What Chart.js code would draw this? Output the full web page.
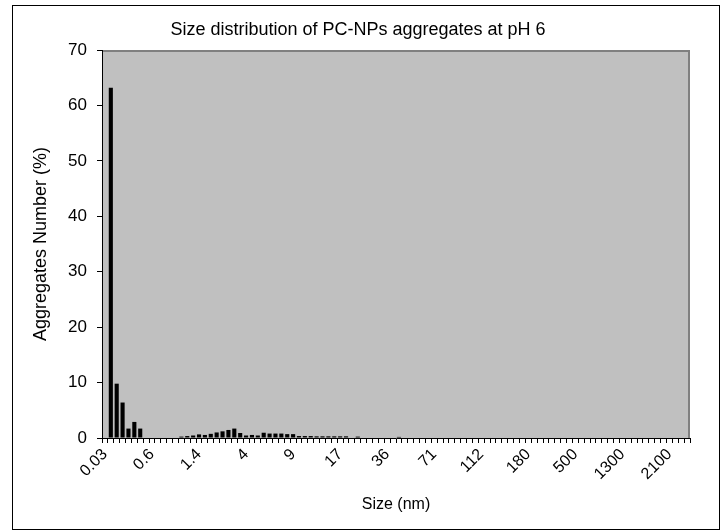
<!DOCTYPE html>
<html>
<head>
<meta charset="utf-8">
<script src="https://cdn.jsdelivr.net/npm/chart.js@4/dist/chart.umd.min.js"></script>
<style>
  html, body { margin: 0; padding: 0; background: #fff; }
  #wrap { width: 727px; height: 531px; }
</style>
</head>
<body>
<div id="wrap"><canvas id="c" width="727" height="531"></canvas></div>
<script>
const tickLabels = ['0.03','0.6','1.4','4','9','17','36','71','112','180','500','1300','2100'];
const labelEvery = 8;
const aggregatesNumber = [
  0, 63.2, 9.8, 6.4, 1.7, 2.9, 1.7, 0, 0, 0,
  0, 0, 0, 0.25, 0.35, 0.45, 0.65, 0.55, 0.75, 1.0,
  1.2, 1.45, 1.7, 0.9, 0.45, 0.55, 0.45, 0.95, 0.8, 0.8,
  0.8, 0.7, 0.7, 0.35, 0.35, 0.35, 0.3, 0.3, 0.3, 0.3,
  0.3, 0.3, 0, 0.25, 0, 0, 0, 0, 0, 0,
  0.2, 0, 0, 0, 0, 0, 0, 0, 0, 0,
  0, 0, 0, 0, 0, 0, 0, 0, 0, 0,
  0, 0, 0, 0, 0, 0, 0, 0, 0, 0,
  0, 0, 0, 0, 0, 0, 0, 0, 0, 0,
  0, 0, 0, 0, 0, 0, 0, 0, 0, 0
];
const categories = aggregatesNumber.map((v, i) =>
  (i % labelEvery === 0 && tickLabels[i / labelEvery] !== undefined) ? tickLabels[i / labelEvery] : '');

const FONT = "'Liberation Sans', Arial, sans-serif";

const framePlugin = {
  id: 'frame',
  beforeDraw(chart) {
    const ctx = chart.ctx;
    const a = chart.chartArea;
    ctx.save();
    ctx.fillStyle = '#ffffff';
    ctx.fillRect(0, 0, chart.width, chart.height);
    ctx.strokeStyle = '#000000';
    ctx.lineWidth = 1;
    ctx.strokeRect(12.5, 5.5, 707, 524);
    ctx.fillStyle = '#c0c0c0';
    ctx.fillRect(a.left, a.top, a.right - a.left, a.bottom - a.top);
    ctx.strokeStyle = '#808080';
    ctx.lineWidth = 2;
    ctx.beginPath();
    ctx.moveTo(a.left, a.top + 1);
    ctx.lineTo(a.right - 1, a.top + 1);
    ctx.lineTo(a.right - 1, a.bottom);
    ctx.stroke();
    ctx.restore();
  }
};

new Chart(document.getElementById('c'), {
  type: 'bar',
  data: {
    labels: categories,
    datasets: [{
      data: aggregatesNumber,
      backgroundColor: '#000000',
      borderWidth: 0,
      barPercentage: 0.7,
      categoryPercentage: 1.0
    }]
  },
  options: {
    responsive: false,
    animation: false,
    devicePixelRatio: 1,
    layout: { padding: { left: 26, right: 37, top: 5, bottom: 15 } },
    plugins: {
      legend: { display: false },
      tooltip: { enabled: false },
      title: {
        display: true,
        text: 'Size distribution of PC-NPs aggregates at pH 6',
        color: '#000',
        font: { family: FONT, size: 18, weight: 'normal', lineHeight: 1.2 },
        padding: { top: 14.2, bottom: 9.2 }
      }
    },
    scales: {
      x: {
        offset: true,
        afterFit(s) { s.height = 531 - 15 - 438; },
        grid: { offset: true, drawOnChartArea: false, drawTicks: true, tickLength: 5, color: '#000' },
        border: { display: true, color: '#000', width: 1 },
        ticks: {
          autoSkip: false,
          maxRotation: 45,
          minRotation: 45,
          padding: 2,
          color: '#000',
          font: { family: FONT, size: 16 }
        },
        title: {
          display: true,
          text: 'Size (nm)',
          color: '#000',
          font: { family: FONT, size: 16 },
          padding: { top: 2, bottom: 2 }
        }
      },
      y: {
        min: 0,
        max: 70,
        afterFit(s) { s.width = 102 - 26; },
        grid: { drawOnChartArea: false, drawTicks: true, tickLength: 5, color: '#000' },
        border: { display: true, color: '#000', width: 1 },
        ticks: {
          stepSize: 10,
          padding: 10,
          color: '#000',
          font: { family: FONT, size: 17 }
        },
        title: {
          display: true,
          text: 'Aggregates Number (%)',
          color: '#000',
          font: { family: FONT, size: 18 },
          padding: { top: 4, bottom: 4 }
        }
      }
    }
  },
  plugins: [framePlugin]
});
</script>
</body>
</html>
